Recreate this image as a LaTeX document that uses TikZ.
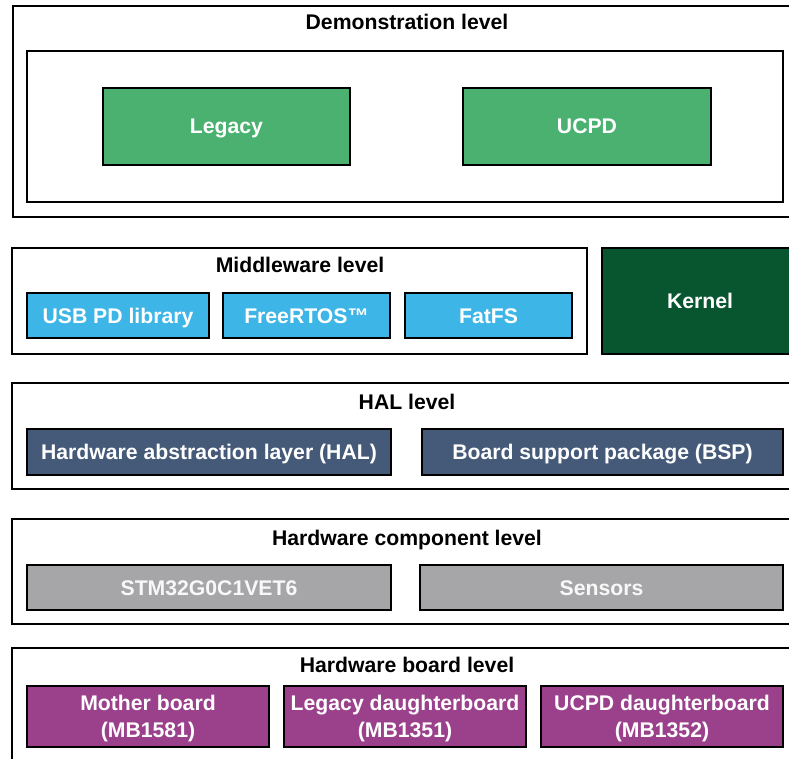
\documentclass[tikz,border=0pt]{standalone}
\usepackage{fontspec}
\setmainfont{Liberation Sans}
\usetikzlibrary{fit}
\definecolor{lgreen}{HTML}{4AB170}
\definecolor{dgreen}{HTML}{08562F}
\definecolor{mblue}{HTML}{3DB5E6}
\definecolor{slate}{HTML}{445A78}
\definecolor{mgray}{HTML}{A6A6A9}
\definecolor{purp}{HTML}{9B418C}
\begin{document}
\begin{tikzpicture}[x=1pt,y=-1pt,
  frame/.style={draw=black, line width=2pt, fill=white, inner sep=0pt},
  blk/.style={draw=black, line width=2.4pt, inner sep=0pt},
  lbl/.style={text=white, inner sep=0pt, font=\bfseries\fontsize{21.2}{26.5}\selectfont},
  one/.style={lbl, text height=15.2pt, text depth=0pt},
  two/.style={lbl, align=center},
  ttl/.style={font=\bfseries\fontsize{21.2}{25}\selectfont, inner sep=0pt, anchor=base}]
\useasboundingbox (0,0) rectangle (789,758);
\clip (0,0) rectangle (789,758);

% Demonstration level
\node[frame, fit={(13,6) (801,217)}] (demo) {};
\node[ttl] (demotitle) at (407,29.5) {Demonstration level};
\node[frame, line width=2.2pt, fit={(27,51) (783,202)}] (demoin) {};
\node[blk, fill=lgreen, fit={(103,88) (350,165)}] (legacy) {};
\node[one] (legacyt) at ([yshift=0.8]legacy.center) {Legacy};
\node[blk, fill=lgreen, fit={(463,88) (711,165)}] (ucpd) {};
\node[one] (ucpdt) at ([yshift=0.8]ucpd.center) {UCPD};

% Middleware level
\node[frame, fit={(12,248) (587,354)}] (mid) {};
\node[ttl] (midtitle) at (300,272) {Middleware level};
\node[blk, fill=mblue, fit={(27,293) (209,338)}] (usbpd) {};
\node[one] (usbpdt) at (usbpd.center) {USB PD library};
\node[blk, fill=mblue, fit={(223,293) (390,338)}] (freertos) {};
\node[one] (freertost) at (freertos.center) {FreeRTOS™};
\node[blk, fill=mblue, fit={(405,293) (572,338)}] (fatfs) {};
\node[one] (fatfst) at (fatfs.center) {FatFS};

% Kernel
\node[blk, fill=dgreen, fit={(602,248) (798,354)}] (kernel) {};
\node[one] (kernelt) at (kernel.center) {Kernel};

% HAL level
\node[frame, fit={(12,383) (801,489)}] (hal) {};
\node[ttl] (haltitle) at (407,409) {HAL level};
\node[blk, fill=slate, fit={(27,429) (391,475)}] (hall) {};
\node[one] (hallt) at (hall.center) {Hardware abstraction layer (HAL)};
\node[blk, fill=slate, fit={(422,429) (783,475)}] (bsp) {};
\node[one] (bspt) at (bsp.center) {Board support package (BSP)};

% Hardware component level
\node[frame, fit={(12,519) (801,624)}] (hwc) {};
\node[ttl] (hwctitle) at (407,545) {Hardware component level};
\node[blk, fill=mgray, fit={(27,565) (391,610)}] (stm) {};
\node[one, text=white!92!mgray] (stmt) at (stm.center) {STM32G0C1VET6};
\node[blk, fill=mgray, fit={(420,565) (783,610)}] (sens) {};
\node[one, text=white!92!mgray] (senst) at (sens.center) {Sensors};

% Hardware board level
\node[frame, fit={(12,648) (801,775)}] (hwb) {};
\node[ttl] (hwbtitle) at (407,672) {Hardware board level};
\node[blk, fill=purp, fit={(27,686) (269,747)}] (mb) {};
\node[two] (mbt) at ([yshift=-2]mb.center) {Mother board\\(MB1581)};
\node[blk, fill=purp, fit={(284,686) (526,747)}] (ldb) {};
\node[two] (ldbt) at ([yshift=-2]ldb.center) {Legacy daughterboard\\(MB1351)};
\node[blk, fill=purp, fit={(541,686) (783,747)}] (udb) {};
\node[two] (udbt) at ([yshift=-2]udb.center) {UCPD daughterboard\\(MB1352)};
\end{tikzpicture}
\end{document}
